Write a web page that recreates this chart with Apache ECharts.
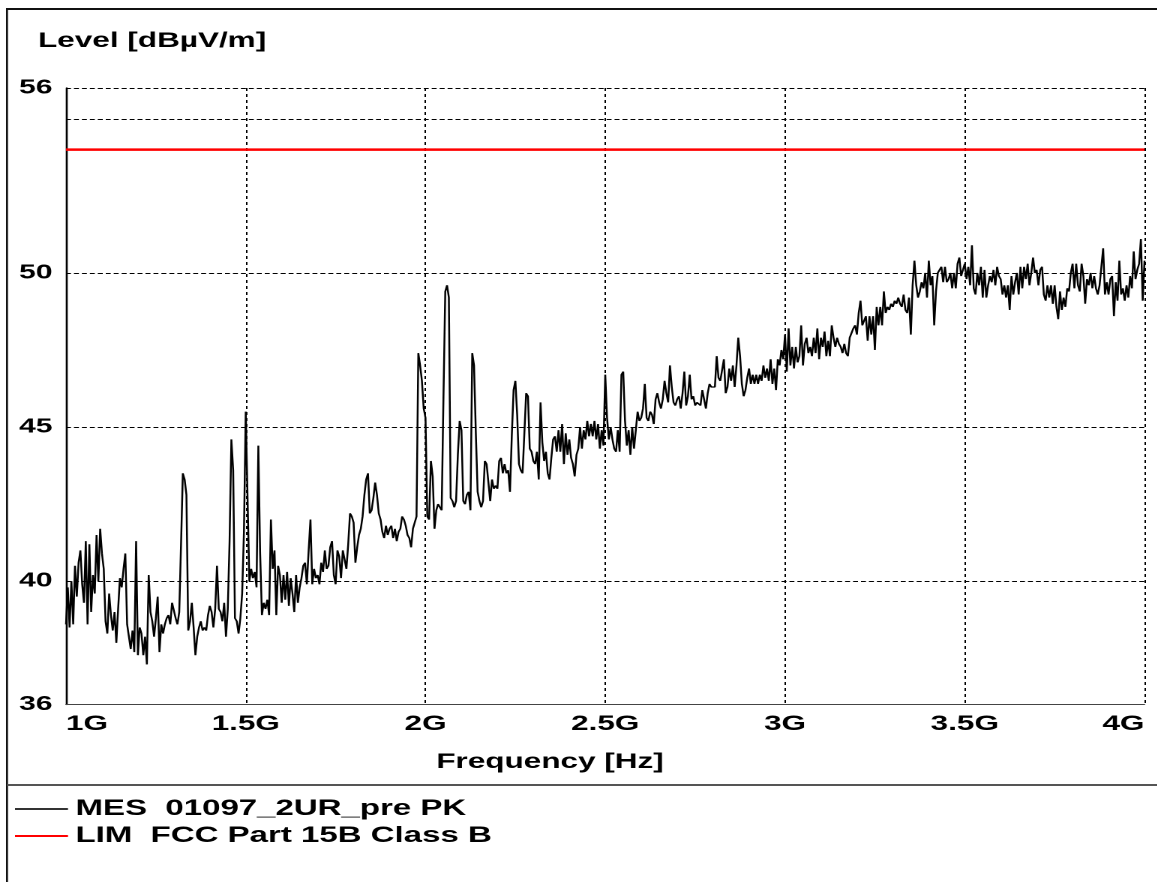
<!DOCTYPE html>
<html>
<head>
<meta charset="utf-8">
<script src="https://cdn.jsdelivr.net/npm/echarts@6/dist/echarts.min.js"></script>
<style>
html,body{margin:0;padding:0;background:#fff;overflow:hidden;}
#wrap{width:1157px;height:882px;overflow:hidden;position:relative;background:#fff;}
#chart{width:771.333px;height:882px;transform:scaleX(1.5);transform-origin:0 0;}
</style>
</head>
<body>
<div id="wrap"><div id="chart"></div></div>
<script>
// horizontal stretch of the original plot (old bitmap export is wider than tall)
const SX = 1.5;

// sweep: 1 GHz .. 4 GHz, 5 MHz steps
const freqStartMHz = 1000;
const freqStepMHz = 5;

const levels = [
// 1000-1095
38.6,39.8,38.5,40.0,38.6,40.5,39.5,40.6,41.0,39.9,39.3,41.3,38.6,41.2,39.0,40.2,39.6,41.5,40.0,41.7,
// 1100-1195
40.9,40.4,38.7,38.3,39.6,38.9,38.4,39.0,38.0,39.1,40.1,39.8,40.4,40.9,38.6,38.2,37.8,38.4,37.7,41.3,
// 1200-1295
37.6,38.5,38.3,37.6,38.2,37.3,40.2,39.0,38.7,38.2,38.8,39.5,37.7,38.6,38.3,38.6,38.8,38.9,38.6,39.3,
// 1300-1395
39.3,38.8,38.6,39.0,41.2,43.5,43.3,42.8,38.4,38.7,39.3,38.5,37.6,38.2,38.5,38.7,38.4,38.5,38.4,38.9,
// 1400-1495
39.2,39.0,38.5,39.1,40.5,39.1,39.0,38.7,39.3,38.2,39.1,41.3,44.6,43.6,38.8,38.7,38.3,38.8,39.6,41.6,
// 1500-1595
45.5,42.7,40.0,40.4,40.1,40.3,39.8,44.4,40.9,38.9,39.3,39.1,39.4,38.9,42.0,40.4,41.0,38.9,40.5,40.2,
// 1600-1695
39.3,40.2,39.4,40.3,39.2,40.1,39.6,39.0,40.2,39.3,39.8,40.1,40.5,40.6,39.9,41.0,42.0,39.9,40.4,40.1,
// 1700-1795
40.2,39.9,40.6,40.3,41.0,40.4,40.5,41.1,41.3,40.2,39.9,41.0,40.8,40.1,41.0,40.7,40.4,41.2,42.2,42.1,
// 1800-1895
41.9,40.6,41.1,41.5,41.7,42.1,42.8,43.3,43.5,42.2,42.3,42.7,43.2,42.8,42.2,42.0,41.6,41.4,41.8,41.5,
// 1900-1995
41.7,41.8,41.4,41.7,41.3,41.6,41.7,42.1,42.0,41.8,41.5,41.4,41.1,41.7,41.9,42.1,47.4,47.0,46.5,45.6,
// 2000-2095
45.3,42.1,42.0,43.9,43.4,41.7,42.3,42.5,42.4,42.3,46.0,49.4,49.6,49.2,42.7,42.6,42.4,42.6,44.1,45.2,
// 2100-2195
44.9,42.6,42.5,42.8,42.9,42.3,47.4,47.0,44.8,42.9,42.6,42.4,42.6,43.9,43.8,43.2,42.6,43.3,43.0,43.1,
// 2200-2295
43.0,43.9,44.0,43.5,43.8,43.5,43.6,42.9,44.7,46.2,46.5,45.4,43.8,43.6,43.5,44.8,46.1,46.0,44.3,44.2,
// 2300-2395
43.9,43.8,44.2,43.3,45.8,44.5,43.9,44.2,43.5,43.3,44.0,44.6,44.7,44.2,44.9,44.2,45.1,43.8,44.8,44.1,
// 2400-2495
44.6,44.0,43.8,43.4,44.1,44.3,45.0,44.3,44.9,44.6,45.2,44.7,45.1,44.7,45.2,44.6,45.1,44.3,44.9,44.4,
// 2500-2595
46.7,45.3,44.6,45.0,44.6,44.3,44.2,44.9,44.2,46.7,46.8,45.2,44.4,44.9,44.1,45.0,44.3,44.9,45.5,45.2,
// 2600-2695
45.3,45.6,46.4,45.3,45.2,45.5,45.4,45.1,45.9,46.1,45.8,45.6,45.9,46.5,46.1,45.8,47.0,46.3,45.8,45.7,
// 2700-2795
45.9,46.0,45.6,46.1,46.8,45.7,46.0,46.7,45.9,46.0,45.7,45.8,45.8,45.7,46.2,46.2,45.6,46.1,46.4,46.3,
// 2800-2895
46.3,46.3,47.3,46.6,46.5,46.5,47.2,46.1,46.3,46.9,46.5,47.0,46.3,47.0,47.9,47.3,46.4,46.0,46.2,46.6,
// 2900-2995
46.9,46.4,46.7,46.4,46.7,46.4,46.7,46.5,47.0,46.6,46.9,46.5,47.2,46.4,46.9,46.2,47.2,47.0,47.5,47.2,
// 3000-3095
48.0,46.8,48.2,47.0,47.6,46.9,47.6,47.1,47.3,48.3,47.0,47.7,47.9,47.4,47.6,47.3,47.9,47.4,48.2,47.2,
// 3100-3195
47.9,47.6,48.1,47.3,47.8,47.3,48.3,47.9,47.6,47.9,47.7,47.6,47.4,47.7,47.4,47.3,47.9,47.9,48.2,48.3,
// 3200-3295
48.0,48.7,49.1,48.3,48.3,48.6,47.8,48.6,48.0,48.6,47.5,48.9,48.3,48.9,48.3,49.4,48.7,48.9,48.8,49.0,
// 3300-3395
48.9,49.1,49.0,49.2,49.0,48.9,49.3,48.8,48.7,49.2,48.0,49.6,50.4,49.6,49.2,49.4,49.7,49.5,50.0,49.2,
// 3400-3495
50.4,49.6,49.9,48.3,49.4,50.0,50.1,50.2,49.7,50.2,49.7,49.8,50.0,49.5,50.0,49.5,50.3,50.5,49.9,50.1,
// 3500-3595
50.3,49.8,50.2,49.6,50.9,49.5,49.3,50.0,49.6,50.2,49.2,50.1,49.2,49.6,49.9,49.7,50.1,49.6,50.2,49.9,
// 3600-3695
49.8,49.3,49.6,49.2,49.6,48.8,49.9,49.3,49.7,50.0,49.3,50.2,49.5,50.2,49.8,50.3,49.6,50.0,50.5,50.0,
// 3700-3795
50.1,49.6,50.1,50.2,49.3,49.1,49.6,49.2,49.6,49.0,49.6,48.9,48.5,49.4,48.8,49.2,48.9,49.5,49.4,50.0,
// 3800-3895
50.3,49.5,50.3,49.6,49.4,50.3,49.9,49.0,49.8,49.6,50.0,49.5,49.9,49.5,49.3,49.6,50.2,50.8,49.3,49.7,
// 3900-3995
49.3,49.8,49.9,48.6,49.7,49.1,50.4,49.3,49.5,49.1,49.6,49.2,49.9,49.5,50.7,49.8,50.1,50.3,51.1,49.1,
// 4000
50.4
];

// limit line FCC Part 15B Class B
const limitFreqGHz = [1, 4];
const limitLevels = [54, 54];

// axes
const xMinGHz = 1, xMaxGHz = 4, xStepGHz = 0.5;
const yMin = 36, yMax = 56;
const yLabelValues = [36, 40, 45, 50, 56];
const yGridValues = [40, 45, 50, 55, 56];

const seriesNames = ['MES  01097_2UR_pre PK', 'LIM  FCC Part 15B Class B'];
const legendColors = ['#333', '#ff0000'];
const yTitle = 'Level [dBµV/m]';
const xTitle = 'Frequency [Hz]';

const FONT = '"Liberation Sans", Arial, sans-serif';

const measData = levels.map((v, i) => [(freqStartMHz + i * freqStepMHz) / 1000, v]);
const limitData = limitFreqGHz.map((f, i) => [f, limitLevels[i]]);

const W = 1157 / SX;
const chart = echarts.init(document.getElementById('chart'), null, {renderer: 'canvas', devicePixelRatio: 2});

chart.setOption({
  animation: false,
  backgroundColor: '#fff',
  grid: {left: 66 / SX, right: (1157 - 1145) / SX, top: 88, bottom: 882 - 704.5, containLabel: false},
  xAxis: {
    type: 'value', min: xMinGHz, max: xMaxGHz, interval: xStepGHz,
    axisLine: {show: true, lineStyle: {color: '#444', width: 1}},
    axisTick: {show: false},
    splitLine: {show: true, lineStyle: {color: '#000', width: 1, type: [3, 3]}},
    axisLabel: {
      color: '#000', fontSize: 21, fontWeight: 'bold', fontFamily: FONT, margin: 9,
      alignMinLabel: 'left', alignMaxLabel: 'right',
      formatter: v => v + 'G'
    }
  },
  yAxis: {
    type: 'value', min: yMin, max: yMax, interval: 1,
    axisLine: {show: true, lineStyle: {color: '#000', width: 1.33}},
    axisTick: {show: false},
    splitLine: {show: false},
    axisLabel: {
      color: '#000', fontSize: 20, fontWeight: 'bold', fontFamily: FONT, margin: 9,
      showMinLabel: true, showMaxLabel: true,
      formatter: v => (yLabelValues.indexOf(v) >= 0 ? String(v) : '')
    }
  },
  legend: {
    orient: 'vertical', left: 10, top: 798, padding: 0,
    itemWidth: 53 / SX, itemHeight: 2, itemGap: 5,
    textStyle: {fontSize: 22, fontWeight: 'bold', color: '#000', fontFamily: FONT},
    data: seriesNames.map((n, i) => ({name: n, icon: 'rect', itemStyle: {color: legendColors[i]}}))
  },
  graphic: [
    {type: 'line', silent: true, shape: {x1: 7 / SX, y1: 8, x2: 7 / SX, y2: 882}, style: {stroke: '#111', lineWidth: 2 / SX}},
    {type: 'line', silent: true, shape: {x1: 6 / SX, y1: 9, x2: W, y2: 9}, style: {stroke: '#111', lineWidth: 2}},
    {type: 'line', silent: true, shape: {x1: 7 / SX, y1: 785, x2: W, y2: 785}, style: {stroke: '#555', lineWidth: 2}},
    {type: 'text', silent: true, style: {x: 38 / SX, y: 41, text: yTitle, fontSize: 21, fontWeight: 'bold', fontFamily: FONT, fill: '#000', verticalAlign: 'middle'}},
    {type: 'text', silent: true, style: {x: 550 / SX, y: 762, text: xTitle, fontSize: 21, fontWeight: 'bold', fontFamily: FONT, fill: '#000', align: 'center', verticalAlign: 'middle'}}
  ],
  series: [
    {
      name: 'grid', type: 'line', data: [], silent: true, symbol: 'none', z: 1,
      markLine: {
        silent: true, symbol: 'none', label: {show: false}, animation: false,
        lineStyle: {color: '#000', width: 1, type: [3.3, 2]},
        data: yGridValues.map(v => ({yAxis: v}))
      }
    },
    {
      name: seriesNames[0], type: 'line', data: measData, symbol: 'none', showSymbol: false,
      lineStyle: {color: '#000', width: 1.25}, itemStyle: {color: '#000'}, z: 3
    },
    {
      name: seriesNames[1], type: 'line', data: limitData, symbol: 'none', showSymbol: false,
      lineStyle: {color: '#ff0000', width: 2.5}, itemStyle: {color: '#ff0000'}, z: 4
    }
  ]
});
</script>
</body>
</html>
